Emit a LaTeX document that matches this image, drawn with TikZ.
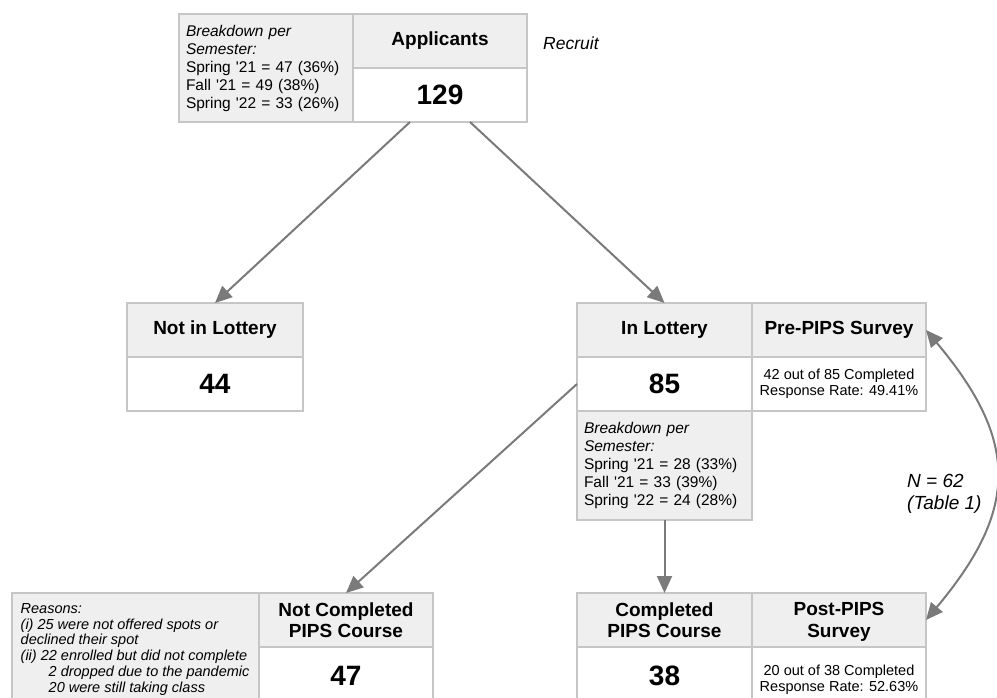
\documentclass[tikz,border=0pt]{standalone}
\usepackage{fontspec}
\setmainfont{Liberation Sans}
\usetikzlibrary{arrows.meta}
\definecolor{boxgray}{HTML}{EFEFEF}
\definecolor{edgegray}{HTML}{C6C6C6}
\definecolor{arrgray}{HTML}{7A7A7A}
\begin{document}
\begin{tikzpicture}[x=1pt,y=-1pt,
  cell/.style={draw=edgegray, line width=1.6pt, anchor=north west, inner sep=0pt, outer sep=0pt, align=center},
  hdr/.style={cell, fill=boxgray, font=\bfseries\fontsize{19}{21.5}\selectfont},
  val/.style={cell, fill=white, font=\bfseries\fontsize{28}{30}\selectfont},
  survey/.style={cell, fill=white, font=\fontsize{14.5}{16}\selectfont},
  brk/.style={cell, fill=boxgray, align=left, text width=160pt, inner xsep=7pt, font=\fontsize{15.5}{18}\selectfont},
  w174/.style={minimum width=174pt},
  h54/.style={minimum height=54pt},
  conn/.style={draw=arrgray, line width=2pt, -{Triangle[length=17pt,width=15pt]}},
  twoway/.style={draw=arrgray, line width=2pt, {Triangle[length=17pt,width=15pt]}-{Triangle[length=17pt,width=15pt]}},
  note/.style={inner sep=0pt, align=left, font=\itshape\fontsize{19}{22.5}\selectfont}
]
\useasboundingbox (0,0) rectangle (997,698);
\clip (0,0) rectangle (997,698);

% Applicants
\node[brk, minimum width=174pt, minimum height=108pt] (brk1) at (179,14)
  {\textit{Breakdown per}\\\textit{Semester:}\\Spring \textquotesingle21 = 47 (36\%)\\Fall \textquotesingle21 = 49 (38\%)\\Spring \textquotesingle22 = 33 (26\%)};
\node[hdr, w174, h54] (apphdr) at (353,14) {Applicants};
\node[val, w174, h54] (appval) at (353,68) {129};
\node[note, anchor=west, font=\itshape\fontsize{17.5}{20}\selectfont] (recruit) at (543,43) {Recruit};

% Not in Lottery
\node[hdr, minimum width=176pt, h54] (nilhdr) at (127,303) {Not in Lottery};
\node[val, minimum width=176pt, h54] (nilval) at (127,357) {44};

% In Lottery
\node[hdr, minimum width=175pt, h54] (inlhdr) at (577,303) {In Lottery};
\node[val, minimum width=175pt, h54] (inlval) at (577,357) {85};
\node[hdr, w174, h54] (prehdr) at (752,303) {Pre-PIPS Survey};
\node[survey, w174, h54] (preval) at (752,357) {42 out of 85 Completed\\Response Rate: 49.41\%};
\node[brk, minimum width=175pt, text width=161pt, minimum height=109pt] (brk2) at (577,411)
  {\textit{Breakdown per}\\\textit{Semester:}\\Spring \textquotesingle21 = 28 (33\%)\\Fall \textquotesingle21 = 33 (39\%)\\Spring \textquotesingle22 = 24 (28\%)};

% Not completed
\node[cell, fill=boxgray, minimum width=247pt, minimum height=120pt] (reasons) at (12,593) {};
\node[inner sep=0pt, anchor=north west, align=left, font=\itshape\fontsize{14.5}{15.9}\selectfont] (rtext) at (20.5,603)
  {Reasons:\\(i) 25 were not offered spots or\\declined their spot\\(ii) 22 enrolled but did not complete\\\hspace*{28pt}2 dropped due to the pandemic\\\hspace*{28pt}20 were still taking class};
\node[hdr, w174, h54] (nchdr) at (259,593) {Not Completed\\PIPS Course};
\node[val, w174, minimum height=66pt] (ncval) at (259,647) {\raisebox{9pt}{47}};

% Completed
\node[hdr, minimum width=175pt, h54] (cchdr) at (577,593) {Completed\\PIPS Course};
\node[val, minimum width=175pt, minimum height=66pt] (ccval) at (577,647) {\raisebox{9pt}{38}};
\node[hdr, w174, h54] (posthdr) at (752,593) {Post-PIPS\vphantom{p}\\\raisebox{0pt}[\height][0pt]{Survey}};
\node[survey, w174, minimum height=66pt] (postval) at (752,647) {\raisebox{10pt}{\begin{tabular}{@{}c@{}}20 out of 38 Completed\\Response Rate: 52.63\%\end{tabular}}};

% connectors
\draw[conn] ([xshift=-30pt]appval.south) -- (nilhdr.north);
\draw[conn] ([xshift=30pt]appval.south) -- (inlhdr.north);
\draw[conn] (inlval.west) -- (nchdr.north);
\draw[conn] (brk2.south) -- (cchdr.north);
\draw[twoway] (prehdr.east) to[out=-50, in=50, looseness=1.28] (posthdr.east);

\node[note, anchor=west] (nlabel) at (907,494) {N = 62\\(Table 1)};
\end{tikzpicture}
\end{document}
